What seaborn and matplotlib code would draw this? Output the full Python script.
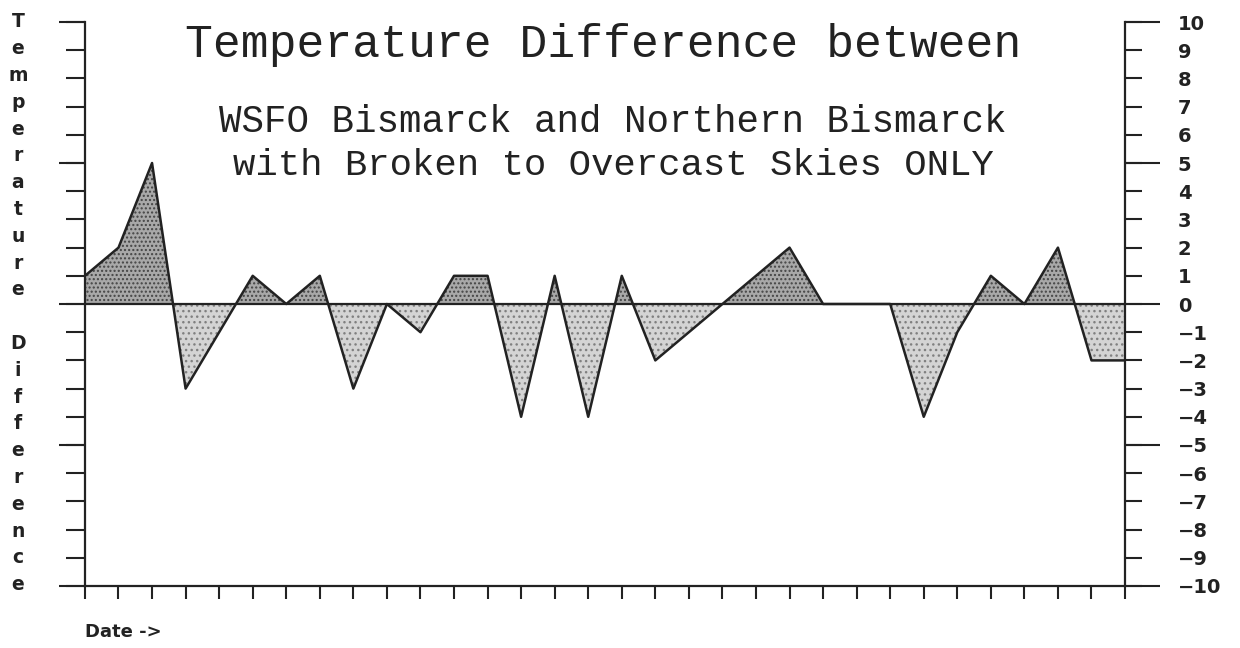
import numpy as np
import pandas as pd
import matplotlib
matplotlib.use("Agg")
import matplotlib.pyplot as plt
from matplotlib.ticker import FixedLocator, NullFormatter
import seaborn as sns

# Daily temperature difference (deg F), WSFO Bismarck minus Northern Bismarck
day_index = list(range(32))
temp_diff = [1, 2, 5, -3, -1, 1, 0, 1, -3, 0, -1, 1, 1, -4, 1, -4,
             1, -2, -1, 0, 1, 2, 0, 0, 0, -4, -1, 1, 0, 2, -2, -2]
y_ticks = list(range(-10, 11))
y_major = [-10, -5, 0, 5, 10]

title_lines = ["Temperature Difference between",
               "WSFO Bismarck and Northern Bismarck",
               "with Broken to Overcast Skies ONLY"]
y_label = "Temperature Difference"
x_label = "Date ->"

df = pd.DataFrame({"day": day_index, "diff": temp_diff})

sns.set_style("white")
plt.rcParams["font.family"] = ["DejaVu Sans"]

fig = plt.figure(figsize=(12.4, 6.48), dpi=100)
ax = fig.add_axes([0.0685, 0.0957, 0.8388, 0.8703])

x = df["day"].to_numpy(dtype=float)
y = df["diff"].to_numpy(dtype=float)

# stippled fills above and below zero
ax.fill_between(x, y, 0, where=y >= 0, interpolate=True,
                facecolor="#a8a8a8", edgecolor="#444444", hatch="....",
                linewidth=0)
ax.fill_between(x, y, 0, where=y <= 0, interpolate=True,
                facecolor="#d4d4d4", edgecolor="#808080", hatch="...",
                linewidth=0)
sns.lineplot(data=df, x="day", y="diff", ax=ax, color="#222222",
             linewidth=1.8, legend=False)
ax.axhline(0, color="#222222", linewidth=1.6)

ax.set_xlim(0, 31)
ax.set_ylim(-10, 10)
ax.set_xlabel("")
ax.set_ylabel("")

for side in ["top", "right"]:
    ax.spines[side].set_visible(False)
for side in ["left", "bottom"]:
    ax.spines[side].set_linewidth(1.6)
    ax.spines[side].set_color("#222222")

ax.set_xticks(day_index)
ax.xaxis.set_major_formatter(NullFormatter())
ax.tick_params(axis="x", bottom=True, direction="out", length=9, width=1.5,
               color="#222222")

# left axis: short ticks every degree, long ticks every 5
ax.yaxis.remove_overlapping_locs = False
ax.yaxis.set_major_locator(FixedLocator(y_ticks))
ax.yaxis.set_minor_locator(FixedLocator(y_major))
ax.yaxis.set_major_formatter(NullFormatter())
ax.tick_params(axis="y", which="major", left=True, direction="out",
               length=13.5, width=1.5, color="#222222")
ax.tick_params(axis="y", which="minor", left=True, direction="out",
               length=19, width=1.5, color="#222222")

# right axis carries the numeric labels
ax2 = ax.twinx()
ax2.set_ylim(-10, 10)
for side in ["top", "left", "bottom"]:
    ax2.spines[side].set_visible(False)
ax2.spines["right"].set_linewidth(1.6)
ax2.spines["right"].set_color("#222222")
ax2.yaxis.remove_overlapping_locs = False
ax2.yaxis.set_major_locator(FixedLocator(y_ticks))
ax2.yaxis.set_minor_locator(FixedLocator(y_major))
ax2.set_yticklabels([f"{v}".replace("-", "\u2212") for v in y_ticks])
ax2.tick_params(axis="y", which="major", right=True, direction="out",
                length=12, width=1.5, color="#222222", pad=26, labelsize=14)
ax2.tick_params(axis="y", which="minor", right=True, direction="out",
                length=25, width=1.5, color="#222222")
for lbl in ax2.get_yticklabels():
    lbl.set_fontweight("bold")
    lbl.set_color("#222222")

mono = ["Liberation Mono", "DejaVu Sans Mono"]
fig.text(0.486, 0.93, title_lines[0], ha="center", va="center",
         family=mono, fontsize=33.4, color="#222222")
fig.text(0.494, 0.812, title_lines[1], ha="center", va="center",
         family=mono, fontsize=27.0, color="#222222")
fig.text(0.495, 0.745, title_lines[2], ha="center", va="center",
         family=mono, fontsize=26.9, color="#222222")

fig.text(0.0145, 0.532, "\n".join(y_label), ha="center", va="center",
         fontsize=13.5, fontweight="bold", linespacing=1.52, color="#222222")
fig.text(0.0685, 0.025, x_label, ha="left", va="center",
         fontsize=13, fontweight="bold", color="#222222")

fig.savefig("out.png", dpi=100, facecolor="white")
